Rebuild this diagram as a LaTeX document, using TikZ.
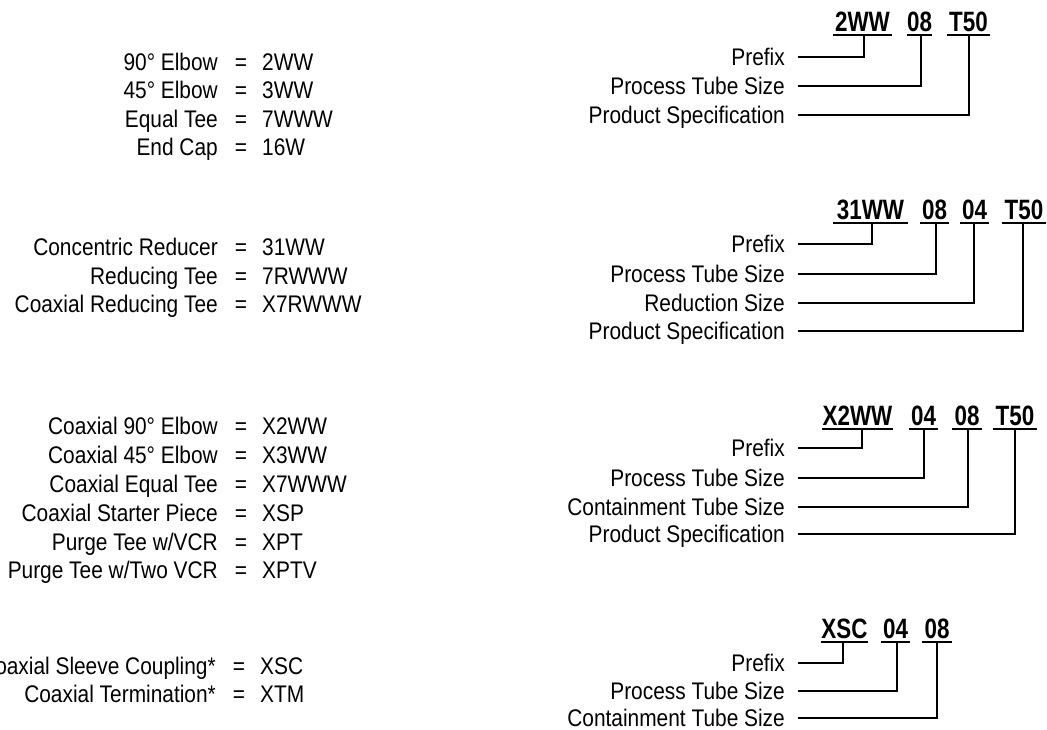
\documentclass[tikz,border=0pt]{standalone}
\usepackage{fontspec}
\setmainfont{Liberation Sans}[FakeStretch=0.87]
\newfontfamily\codefont{Liberation Sans}[FakeStretch=0.8]
% left-column row: name, right x of label, y, label, value
\newcommand\myeqrow[5]{%
  \node[lbl, anchor=east] (#1) at (#2,#3) {#4};
  \node[lbl] (#1e) at ({#2+23},#3) {=};
  \node[lbl, anchor=west] (#1v) at ({#2+44},#3) {#5};}
% bold code token: name, x1, x2, text   (uses \uy)
\newcommand\mytok[4]{%
  \node[code, minimum width={#3pt-#2pt}] (#1) at ({(#2+#3)/2},{\uy-4}) {#4};
  \draw[ul] ([yshift=-4pt]#1.base west) -- ([yshift=-4pt]#1.base east);}
% explained field: name, label, y, stem x   (uses \uy)
\newcommand\myconn[4]{%
  \node[lbl, anchor=east] (#1) at (785,#3) {#2};
  \coordinate (#1t) at (#4,\uy);
  \draw[ln] ([xshift=13pt]#1.east) -| (#1t);}
\begin{document}
\begin{tikzpicture}[x=1pt,y=-1pt,
  lbl/.style={font=\fontsize{24}{24}\selectfont, inner sep=0pt, text height=17pt, text depth=0pt},
  code/.style={font=\codefont\bfseries\fontsize{28}{28}\selectfont, inner sep=0pt, text height=20pt, text depth=0pt, anchor=base},
  ln/.style={line width=1.8pt, line join=miter},
  ul/.style={line width=2pt}]
\fill[white] (0,0) rectangle (1047,729);
\useasboundingbox (0,0) rectangle (1047,729);

% ---------- left column ----------
\myeqrow{a1}{218}{62}{90° Elbow}{2WW}
\myeqrow{a2}{218}{90}{45° Elbow}{3WW}
\myeqrow{a3}{218}{119}{Equal Tee}{7WWW}
\myeqrow{a4}{218}{147}{End Cap}{16W}

\myeqrow{b1}{218}{247}{Concentric Reducer}{31WW}
\myeqrow{b2}{218}{276}{Reducing Tee}{7RWWW}
\myeqrow{b3}{218}{304}{Coaxial Reducing Tee}{X7RWWW}

\myeqrow{c1}{218}{426}{Coaxial 90° Elbow}{X2WW}
\myeqrow{c2}{218}{455}{Coaxial 45° Elbow}{X3WW}
\myeqrow{c3}{218}{484}{Coaxial Equal Tee}{X7WWW}
\myeqrow{c4}{218}{513}{Coaxial Starter Piece}{XSP}
\myeqrow{c5}{218}{542}{Purge Tee w/VCR}{XPT}
\myeqrow{c6}{218}{570}{Purge Tee w/Two VCR}{XPTV}

\myeqrow{d1}{216}{666}{Coaxial Sleeve Coupling*}{XSC}
\myeqrow{d2}{216}{694}{Coaxial Termination*}{XTM}

% ---------- right column ----------
\def\uy{35}
\mytok{t11}{833}{892}{2WW}
\mytok{t12}{907}{932}{08}
\mytok{t13}{947}{990}{T50}
\myconn{p11}{Prefix}{57}{864}
\myconn{p12}{Process Tube Size}{86}{921}
\myconn{p13}{Product Specification}{115}{969}

\def\uy{223}
\mytok{t21}{833}{908}{31WW}
\mytok{t22}{920}{949}{08}
\mytok{t23}{960}{989}{04}
\mytok{t24}{1002}{1046}{T50}
\myconn{p21}{Prefix}{244}{872}
\myconn{p22}{Process Tube Size}{274}{936}
\myconn{p23}{Reduction Size}{303}{974}
\myconn{p24}{Product Specification}{331}{1023}

\def\uy{429}
\mytok{t31}{822}{893}{X2WW}
\mytok{t32}{909}{938}{04}
\mytok{t33}{952}{982}{08}
\mytok{t34}{993}{1037}{T50}
\myconn{p31}{Prefix}{448}{862}
\myconn{p32}{Process Tube Size}{478}{924}
\myconn{p33}{Containment Tube Size}{507}{968}
\myconn{p34}{Product Specification}{534}{1015}

\def\uy{642}
\mytok{t41}{823}{866}{XSC}
\mytok{t42}{881}{910}{04}
\mytok{t43}{922}{952}{08}
\myconn{p41}{Prefix}{663}{843}
\myconn{p42}{Process Tube Size}{691}{897}
\myconn{p43}{Containment Tube Size}{718}{937}
\end{tikzpicture}
\end{document}
